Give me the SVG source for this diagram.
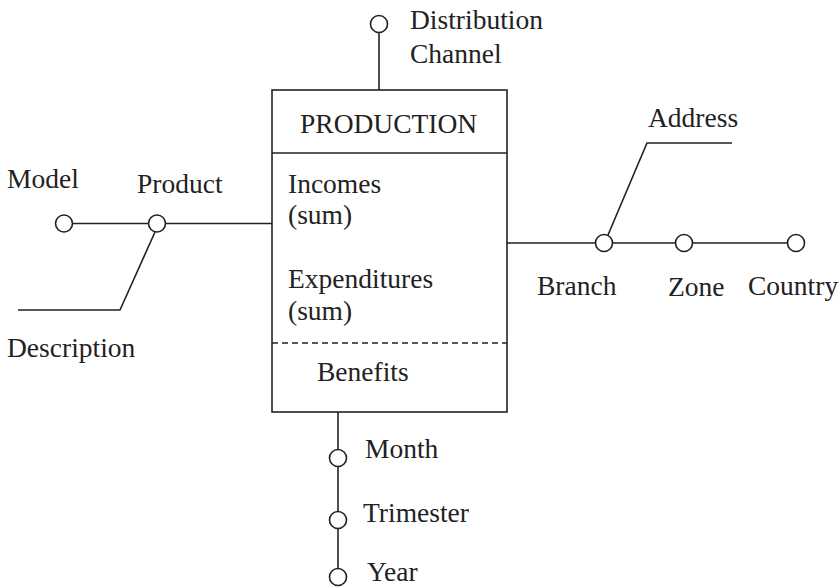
<svg xmlns="http://www.w3.org/2000/svg" width="839" height="588" viewBox="0 0 839 588">
<style>
text{font-family:"Liberation Serif","Times New Roman",serif;font-size:27.5px;fill:#222}
.ln{stroke:#222;stroke-width:1.6;fill:none}
.c{stroke:#222;stroke-width:1.6;fill:#fff}
</style>
<rect width="839" height="588" fill="#fff"/>
<g id="connectors">
<line class="ln" x1="379" y1="33" x2="379" y2="90"/>
<line class="ln" x1="64" y1="223.5" x2="272" y2="223.5"/>
<polyline class="ln" points="155,232 120,310 18,310"/>
<line class="ln" x1="507" y1="243" x2="796" y2="243"/>
<polyline class="ln" points="608,235 647,143 732,143"/>
<line class="ln" x1="338" y1="412" x2="338" y2="570"/>
</g>
<g id="production">
<rect class="ln" x="272" y="90" width="235" height="322"/>
<line class="ln" x1="272" y1="153" x2="507" y2="153"/>
<line class="ln" x1="272" y1="343" x2="507" y2="343" stroke-dasharray="6 4"/>
<text x="300" y="133">PRODUCTION</text>
<text x="288" y="193">Incomes</text>
<text x="288" y="224">(sum)</text>
<text x="288" y="288">Expenditures</text>
<text x="288" y="320">(sum)</text>
<text x="317" y="381">Benefits</text>
</g>
<g id="distribution-channel">
<circle class="c" cx="379" cy="24" r="8.5"/>
<text x="410" y="29">Distribution</text>
<text x="410" y="63">Channel</text>
</g>
<g id="model">
<circle class="c" cx="64" cy="223.5" r="8.5"/>
<text x="7" y="188">Model</text>
</g>
<g id="product">
<circle class="c" cx="157" cy="223.5" r="8.5"/>
<text x="137" y="193">Product</text>
</g>
<g id="description">
<text x="7" y="357">Description</text>
</g>
<g id="branch">
<circle class="c" cx="604" cy="243" r="8.5"/>
<text x="537" y="295">Branch</text>
</g>
<g id="address">
<text x="648" y="127">Address</text>
</g>
<g id="zone">
<circle class="c" cx="684" cy="243" r="8.5"/>
<text x="668" y="296">Zone</text>
</g>
<g id="country">
<circle class="c" cx="796" cy="243" r="8.5"/>
<text x="748" y="295">Country</text>
</g>
<g id="month">
<circle class="c" cx="338" cy="458" r="8.5"/>
<text x="365" y="458">Month</text>
</g>
<g id="trimester">
<circle class="c" cx="338" cy="520" r="8.5"/>
<text x="363" y="522">Trimester</text>
</g>
<g id="year">
<circle class="c" cx="338" cy="577" r="8.5"/>
<text x="367" y="581">Year</text>
</g>
</svg>
